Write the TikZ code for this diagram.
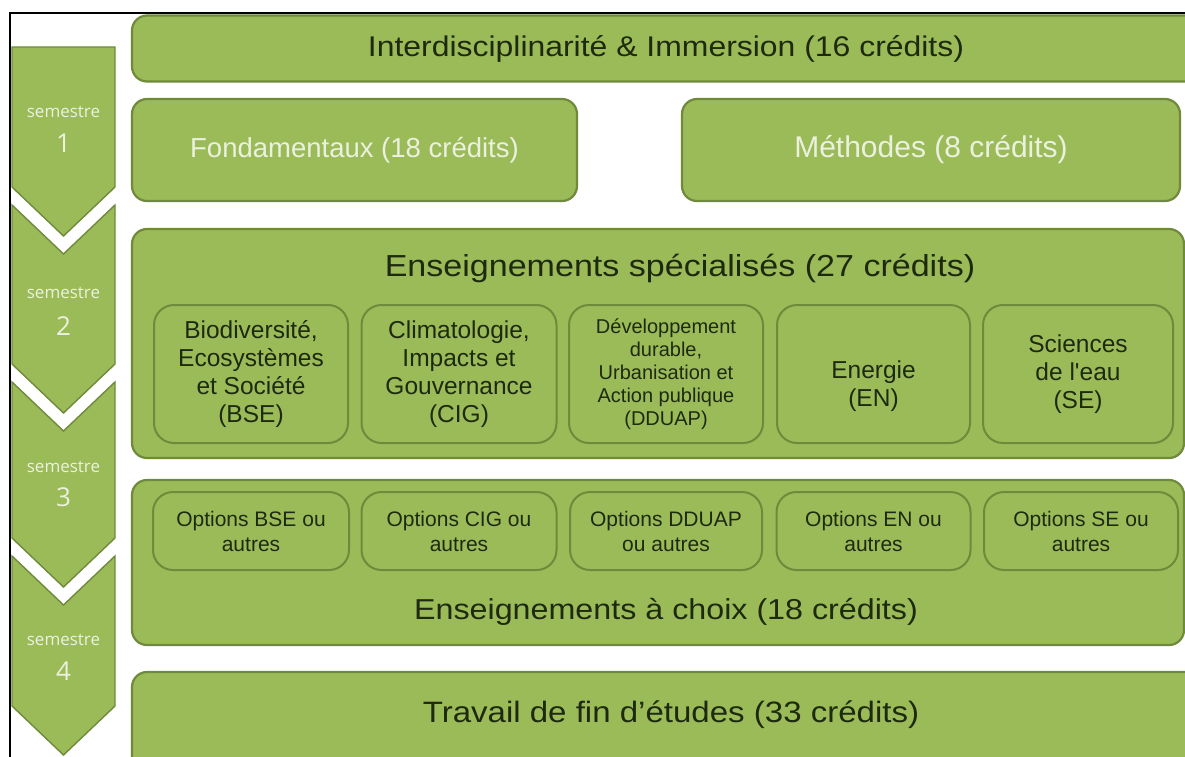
\documentclass[tikz,border=0pt]{standalone}
\usepackage{fontspec}
\setmainfont{Liberation Sans}
\newfontfamily\semfont{Open Sans}
\newfontfamily\widefont[FakeStretch=1.12]{Liberation Sans}
\definecolor{ggreen}{HTML}{9BBB59}
\definecolor{gedge}{HTML}{6E8A3A}
\definecolor{lighttext}{HTML}{EBF1DE}
\definecolor{darktext}{HTML}{1E2A10}
\begin{document}
\begin{tikzpicture}[x=1pt,y=-1pt,
  gbox/.style={draw=gedge, fill=ggreen, line width=2.2pt, rounded corners=15pt, inner sep=0pt},
  sbox/.style={draw=gedge, fill=ggreen, line width=2pt, rounded corners=20pt, inner sep=0pt, align=center, text=darktext},
  chev/.style={draw=gedge, fill=ggreen, line width=1.4pt, line join=miter},
  bigtxt/.style={font=\widefont\fontsize{#1}{32}\selectfont, text=darktext},
  bigtxt/.default=29,
  lighttxt/.style={font=\fontsize{#1}{32}\selectfont, text=lighttext},
  subtxt/.style={font=\fontsize{24.5}{28}\selectfont},
  smalltxt/.style={font=\fontsize{20}{23}\selectfont},
  opttxt/.style={font=\fontsize{21}{25}\selectfont},
  semtxt/.style={font=\semfont\fontsize{17}{20}\selectfont, text=lighttext},
  numtxt/.style={font=\semfont\fontsize{26}{30}\selectfont, text=lighttext}
]
\useasboundingbox (0,0) rectangle (1185,756);
\fill[white] (0,0) rectangle (1185,756);

% frame lines
\draw[line width=2pt, black] (1200,13) -- (10,13) -- (10,770);

% semester chevrons
\draw[chev] (12,47) -- (115,47) -- (115,187) -- (63.5,236) -- (12,187) -- cycle;
\draw[chev] (12,205) -- (63.5,254) -- (115,205) -- (115,364) -- (63.5,413) -- (12,364) -- cycle;
\draw[chev] (12,382) -- (63.5,431) -- (115,382) -- (115,538) -- (63.5,587) -- (12,538) -- cycle;
\draw[chev] (12,556) -- (63.5,605) -- (115,556) -- (115,706) -- (63.5,755) -- (12,706) -- cycle;
\node[semtxt] (s1) at (63.5,112) {semestre};
\node[numtxt] (n1) at (63.5,143) {1};
\node[semtxt] (s2) at (63.5,293) {semestre};
\node[numtxt] (n2) at (63.5,326) {2};
\node[semtxt] (s3) at (63.5,467) {semestre};
\node[numtxt] (n3) at (63.5,497) {3};
\node[semtxt] (s4) at (63.5,640) {semestre};
\node[numtxt] (n4) at (63.5,671) {4};

% top rows
\node[gbox, bigtxt=28.5, minimum width=1068pt, minimum height=66pt] (inter) at (666,48.5) {Interdisciplinarité \& Immersion (16 crédits)};
\node[gbox, lighttxt=27.5, minimum width=445pt, minimum height=102pt] (fond) at (354.5,150) {Fondamentaux (18 crédits)};
\node[gbox, lighttxt=30, minimum width=498pt, minimum height=102pt] (meth) at (931,150) {Méthodes (8 crédits)};

% specialised
\node[gbox, minimum width=1052pt, minimum height=229pt] (spec) at (658,343.5) {};
\node[bigtxt=30.4] (spect) at (680,268) {Enseignements spécialisés (27 crédits)};
\node[sbox, subtxt, minimum width=194pt, minimum height=138pt] (bse) at (251,374) {Biodiversité,\\Ecosystèmes\\et Société\\(BSE)};
\node[sbox, subtxt, minimum width=195pt, minimum height=138pt] (cig) at (459,374) {Climatologie,\\Impacts et\\Gouvernance\\(CIG)};
\node[sbox, smalltxt, minimum width=194pt, minimum height=138pt] (dduap) at (666,374) {Développement\\durable,\\Urbanisation et\\Action publique\\(DDUAP)};
\node[sbox, minimum width=193pt, minimum height=138pt] (en) at (873.5,374) {};
\node[subtxt, align=center, text=darktext] (ent) at (873.5,386) {Energie\\(EN)};
\node[sbox, subtxt, minimum width=190pt, minimum height=138pt] (se) at (1078,374) {Sciences\\de l\textquotesingle eau\\(SE)};

% options
\node[gbox, minimum width=1052pt, minimum height=165pt] (opt) at (658,562.5) {};
\node[bigtxt=28.8] (optt) at (666,612) {Enseignements à choix (18 crédits)};
\node[sbox, opttxt, minimum width=196pt, minimum height=78pt] (obse) at (251,531) {Options BSE ou\\autres};
\node[sbox, opttxt, minimum width=195pt, minimum height=78pt] (ocig) at (459,531) {Options CIG ou\\autres};
\node[sbox, opttxt, minimum width=192pt, minimum height=78pt] (odd) at (666,531) {Options DDUAP\\ou autres};
\node[sbox, opttxt, minimum width=194pt, minimum height=78pt] (oen) at (873.5,531) {Options EN ou\\autres};
\node[sbox, opttxt, minimum width=194pt, minimum height=78pt] (ose) at (1081,531) {Options SE ou\\autres};

% final
\node[gbox, minimum width=1068pt, minimum height=100pt] (tfe) at (666,722) {};
\node[bigtxt=29.5] (tfet) at (671,715) {Travail de fin d’études (33 crédits)};
\end{tikzpicture}
\end{document}
